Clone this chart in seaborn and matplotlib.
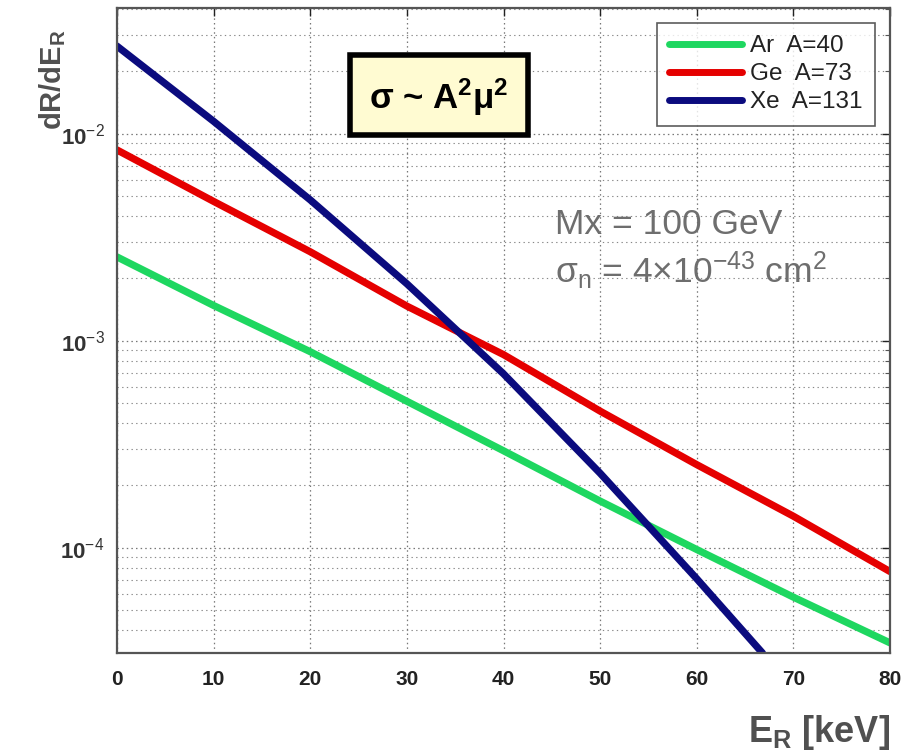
import numpy as np
import pandas as pd
import seaborn as sns
import matplotlib
matplotlib.use("Agg")
import matplotlib.pyplot as plt
import matplotlib.ticker as mticker
from matplotlib.patches import Rectangle

# ---- data ----
energy_ar = [0, 10, 20, 30, 40, 50, 60, 70, 80]
rate_ar = [2.54e-3, 1.48e-3, 8.85e-4, 5.1e-4, 2.94e-4, 1.68e-4, 9.8e-5, 5.77e-5, 3.47e-5]
energy_ge = [0, 10, 20, 30, 40, 50, 60, 70, 80]
rate_ge = [8.35e-3, 4.71e-3, 2.69e-3, 1.47e-3, 8.57e-4, 4.57e-4, 2.52e-4, 1.42e-4, 7.67e-5]
energy_xe = [0, 10, 20, 30, 40, 50, 60, 66.8]
rate_xe = [2.65e-2, 1.148e-2, 4.79e-3, 1.884e-3, 6.92e-4, 2.29e-4, 7.08e-5, 3.1e-5]
series_labels = ["Ar  A=40", "Ge  A=73", "Xe  A=131"]
series_colors = ["#1ED760", "#E50000", "#0B0B7E"]
x_ticks = [0, 10, 20, 30, 40, 50, 60, 70, 80]
y_ticks = [1e-4, 1e-3, 1e-2]
y_ticklabels = [r"$\mathbf{10}^{\mathregular{-4}}$", r"$\mathbf{10}^{\mathregular{-3}}$",
                r"$\mathbf{10}^{\mathregular{-2}}$"]

df = pd.concat([
    pd.DataFrame({"E": energy_ar, "rate": rate_ar, "target": series_labels[0]}),
    pd.DataFrame({"E": energy_ge, "rate": rate_ge, "target": series_labels[1]}),
    pd.DataFrame({"E": energy_xe, "rate": rate_xe, "target": series_labels[2]}),
])

sns.set_theme(style="white")
plt.rcParams["font.family"] = ["Liberation Sans", "DejaVu Sans"]
plt.rcParams["mathtext.fontset"] = "custom"
plt.rcParams["mathtext.rm"] = "Liberation Sans"
plt.rcParams["mathtext.bf"] = "Liberation Sans:bold"
plt.rcParams["mathtext.it"] = "Liberation Sans:italic"

W, H = 924, 751
fig = plt.figure(figsize=(W / 100, H / 100), dpi=100)
fig.patch.set_facecolor("white")
ax = fig.add_axes([117 / W, 1 - 653 / H, (890 - 117) / W, (653 - 8) / H])

sns.lineplot(data=df, x="E", y="rate", hue="target", hue_order=series_labels,
             palette=series_colors, linewidth=5.2, ax=ax, sort=True,
             estimator=None)

ax.set_yscale("log")
ax.set_xlim(0, 80)
ax.set_ylim(3.1e-5, 0.0405)
ax.set_xticks(x_ticks)
ax.set_xticklabels([str(v) for v in x_ticks])
ax.set_yticks(y_ticks)
ax.set_yticklabels(y_ticklabels)
ax.yaxis.set_minor_locator(mticker.LogLocator(base=10, subs=np.arange(2, 10), numticks=20))
ax.yaxis.set_minor_formatter(mticker.NullFormatter())
ax.set_xlabel("")
ax.set_ylabel("")

ax.grid(True, which="major", axis="both", linestyle=(0, (1.2, 2.5)), color="#777777", linewidth=0.9)
ax.grid(True, which="minor", axis="y", linestyle=(0, (1.2, 3)), color="#888888", linewidth=0.8)
ax.set_axisbelow(True)

ax.tick_params(which="both", direction="in", top=True, right=True, color="#555555")
ax.tick_params(which="major", length=6, width=1.0, labelsize=15, pad=12, colors="#222222")
ax.tick_params(which="minor", length=3.5, width=0.8)
ax.tick_params(axis="y", which="major", labelsize=16, pad=9, labelcolor="#333333")
for lab in ax.get_xticklabels():
    lab.set_fontweight("bold")
for s in ax.spines.values():
    s.set_color("#555555")
    s.set_linewidth(1.6)

leg = ax.legend(loc="upper right", bbox_to_anchor=(875 / W, 1 - 23 / H),
                bbox_transform=fig.transFigure, frameon=True, fancybox=False,
                edgecolor="#333333", fontsize=17.5, handlelength=3.0,
                handletextpad=0.35, borderpad=0.5, labelspacing=0.25,
                borderaxespad=0)
leg.get_frame().set_linewidth(1.2)
for line in leg.get_lines():
    line.set_linewidth(5)
for t in leg.get_texts():
    t.set_color("#222222")

# sigma box
fig.add_artist(Rectangle((350 / W, 1 - 135 / H), 178 / W, 80 / H,
                         transform=fig.transFigure, facecolor="#FFFBD2",
                         edgecolor="black", linewidth=4, zorder=5))
fig.text(439 / W, 1 - 97 / H, r"σ ~ A$^\mathbf{2}$μ$^\mathbf{2}$", ha="center", va="center",
         fontsize=25, fontweight="bold", color="black", zorder=6)

# parameter annotation
fig.text(555 / W, 1 - 225 / H, "Mx = 100 GeV", ha="left", va="center",
         fontsize=25.5, color="#6E6E6E", zorder=6)
fig.text(555 / W, 1 - 271 / H,
         r"σ$_\mathregular{n}$ = 4×10$^\mathregular{-43}$ cm$^\mathregular{2}$",
         ha="left", va="center", fontsize=25.5, color="#6E6E6E", zorder=6)

# axis labels
fig.text(53 / W, 1 - 80 / H, r"$\mathbf{dR/dE_R}$", rotation=90,
         ha="center", va="center", fontsize=21, color="#505050")
fig.text(890 / W, 1 - 732 / H, r"$\mathbf{E_R\ [keV]}$", ha="right",
         va="center", fontsize=26, color="#505050")

fig.savefig("out.png", dpi=100)
